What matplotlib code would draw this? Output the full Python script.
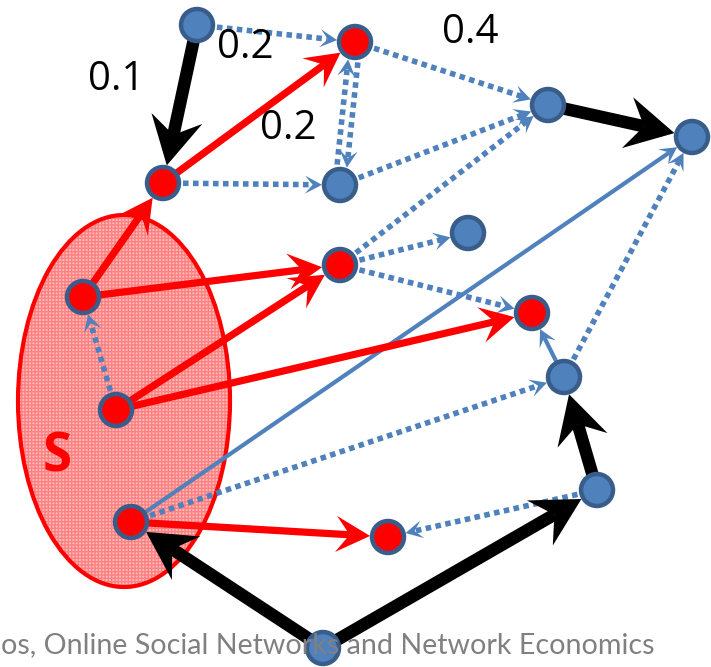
import numpy as np
import matplotlib.pyplot as plt
from matplotlib.patches import Circle, Ellipse, Polygon

# node positions (pixel coords, y down) and whether the node is in the active (red) set
node_names = ['A', 'B', 'C', 'D', 'E', 'F', 'G', 'H', 'I', 'J', 'K', 'L', 'M', 'N', 'O', 'P']
node_x = [197, 355, 548, 692, 163, 340, 468, 340, 83, 532, 564, 116, 597, 131, 388, 323]
node_y = [25, 42, 105, 137, 183, 185, 233, 265, 297, 313, 377, 410, 490, 522, 537, 648]
node_red = [0, 1, 0, 0, 1, 0, 0, 1, 1, 1, 0, 1, 0, 1, 1, 0]

# edges by drawing style
black_edges = [('A', 'E'), ('C', 'D'), ('P', 'N'), ('P', 'M'), ('M', 'K')]
red_edges = [('E', 'B'), ('I', 'E'), ('I', 'H'), ('L', 'H'), ('L', 'J'), ('N', 'O')]
solid_blue_edges = [('N', 'D'), ('K', 'J')]
dotted_edges = [('A', 'B'), ('B', 'C'), ('E', 'F'), ('F', 'C'), ('H', 'C'), ('H', 'G'),
                ('H', 'J'), ('L', 'I'), ('N', 'K'), ('K', 'D'), ('M', 'O')]
dotted_pairs = [('B', 'F'), ('F', 'B')]  # drawn side by side

edge_labels = ['0.1', '0.2', '0.2', '0.4']
label_x = [116, 245, 288, 470]
label_y = [80, 48, 129, 33]

BLUE = '#4F81BD'
DARK = '#385D8A'
R = 16
pos = {n: np.array([x, y], float) for n, x, y in zip(node_names, node_x, node_y)}


def arrow(ax, a, b, color, lw, L, W, notch, ls='-', offset=0.0, z=3):
    p, q = pos[a].copy(), pos[b].copy()
    u = (q - p) / np.linalg.norm(q - p)
    n = np.array([-u[1], u[0]])
    p = p + n * offset
    q = q + n * offset
    tip = q - u * (R + 2)
    back = tip - u * L
    nt = tip - u * L * notch
    ax.plot([p[0], nt[0]], [p[1], nt[1]], color=color, lw=lw, ls=ls,
            solid_capstyle='butt', dash_capstyle='butt', zorder=z)
    head = [tip, back + n * W, nt, back - n * W]
    ax.add_patch(Polygon(head, closed=True, color=color, lw=0, zorder=z))


fig = plt.figure(figsize=(7.11, 6.67), dpi=100)
ax = fig.add_axes([0, 0, 1, 1])
ax.set_xlim(0, 711)
ax.set_ylim(667, 0)
ax.axis('off')

# the seed set S
ax.add_patch(Ellipse((124, 401), 212, 372, facecolor='#ffbcbc', edgecolor='#ff8080',
                     hatch='+++++', lw=0, zorder=1))
ax.add_patch(Ellipse((124, 401), 212, 372, fill=False, edgecolor='#ff0000', lw=3, zorder=1))
ax.text(57, 458, 'S', color='#ff0000', fontsize=38, fontweight='bold', family='Open Sans',
        ha='center', va='center', zorder=2)

dot = (0, (1.0, 0.8))
for a, b in dotted_edges:
    arrow(ax, a, b, BLUE, 4, 17, 9, 0.55, ls=dot)
for (a, b), off in zip(dotted_pairs, [-5, -5]):
    arrow(ax, a, b, BLUE, 4, 17, 9, 0.55, ls=dot, offset=off)
for a, b in solid_blue_edges:
    arrow(ax, a, b, BLUE, 3, 17, 9, 0.55)
for a, b in red_edges:
    arrow(ax, a, b, '#ff0000', 5.2, 34, 18, 0.6, z=4)
for a, b in black_edges:
    arrow(ax, a, b, 'black', 9, 48, 26, 0.65, z=5)

for x, y, red in zip(node_x, node_y, node_red):
    ax.add_patch(Circle((x, y), R, facecolor='#ff0000' if red else BLUE,
                        edgecolor=DARK, lw=3.2, zorder=6))

for t, x, y in zip(edge_labels, label_x, label_y):
    ax.text(x, y, t, fontsize=29, family='Open Sans', ha='center', va='center', zorder=7)

ax.text(1, 653, 'os, Online Social Networks and Network Economics', color='#808080',
        fontsize=20.6, family='Lato', ha='left', va='baseline', zorder=7)

fig.savefig('out.png', dpi=100)
